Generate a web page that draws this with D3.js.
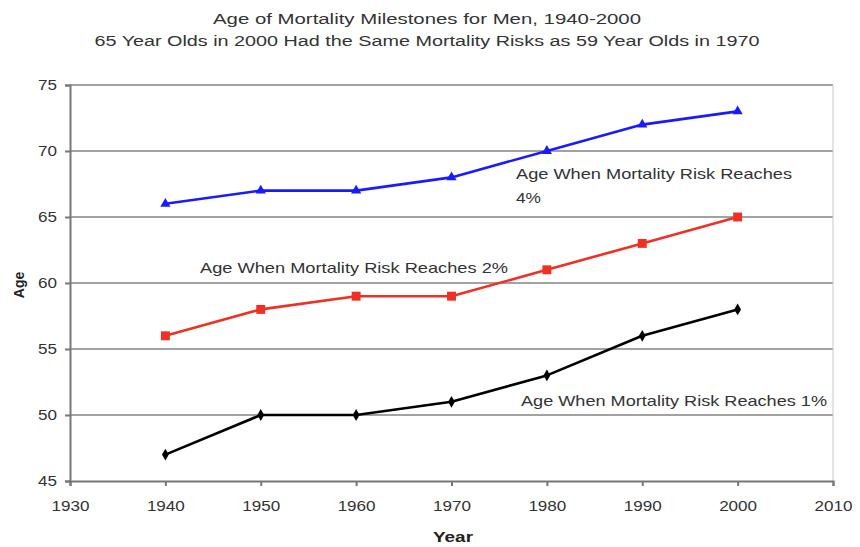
<!DOCTYPE html>
<html><head><meta charset="utf-8">
<script src="https://cdn.jsdelivr.net/npm/d3@7"></script>
<style>body{margin:0;background:#fff}text{font-family:"Liberation Sans",Arial,sans-serif}</style>
</head><body><svg id="c" width="860" height="547"></svg>
<script>
const years = [1940, 1950, 1960, 1970, 1980, 1990, 2000];
const risk4 = [66, 67, 67, 68, 70, 72, 73];
const risk2 = [56, 58, 59, 59, 61, 63, 65];
const risk1 = [47, 50, 50, 51, 53, 56, 58];
const xTicks = [1930, 1940, 1950, 1960, 1970, 1980, 1990, 2000, 2010];
const yTicks = [45, 50, 55, 60, 65, 70, 75];
const titleLines = ["Age of Mortality Milestones for Men, 1940-2000",
  "65 Year Olds in 2000 Had the Same Mortality Risks as 59 Year Olds in 1970"];

const svg = d3.select("#c");
const x = d3.scaleLinear().domain([1930, 2010]).range([70, 833]);
const y = d3.scaleLinear().domain([45, 75]).range([481, 85]);

// gridlines
svg.append("g").selectAll("line").data(yTicks.filter(d => d > 45)).join("line")
  .attr("x1", 70).attr("x2", 833).attr("y1", d => y(d)).attr("y2", d => y(d))
  .attr("stroke", "#a2a2a2").attr("stroke-width", 2.2);
// right border
svg.append("line").attr("x1", 833).attr("x2", 833).attr("y1", y(75)).attr("y2", y(45))
  .attr("stroke", "#c8c8c8").attr("stroke-width", 1);

// axes
const yAxis = d3.axisLeft(y).tickValues(yTicks).tickSize(5).tickPadding(8);
const gy = svg.append("g").attr("transform", "translate(70,0)").call(yAxis);
const xAxis = d3.axisBottom(x).tickValues(xTicks).tickFormat(d3.format("d")).tickSize(5).tickPadding(14);
const gx = svg.append("g").attr("transform", `translate(0,${y(45)})`).call(xAxis);
[gx, gy].forEach(g => {
  g.select(".domain").attr("stroke", "#777").attr("stroke-width", 2);
  g.selectAll(".tick line").attr("stroke", "#777").attr("stroke-width", 2);
  g.selectAll(".tick text").attr("fill", "#333").style("font-size", "15px")
    .style("font-family", "'Liberation Sans',Arial,sans-serif");
});
gx.selectAll(".tick text").attr("textLength", 38).attr("lengthAdjust", "spacingAndGlyphs");
gy.selectAll(".tick text").attr("textLength", 19).attr("lengthAdjust", "spacingAndGlyphs");

const line = d3.line().x((d, i) => x(years[i])).y(d => y(d));
const series = [
  {v: risk4, c: "#1a1aff", m: d3.symbolTriangle, s: 45},
  {v: risk2, c: "#ee3124", m: d3.symbolSquare, s: 80},
  {v: risk1, c: "#000", m: d3.symbolDiamond, s: 40}
];
series.forEach(s => {
  svg.append("path").datum(s.v).attr("d", line).attr("fill", "none")
    .attr("stroke", s.c).attr("stroke-width", 2.6).attr("stroke-linejoin", "round");
  svg.append("g").selectAll("path").data(s.v).join("path")
    .attr("transform", (d, i) => `translate(${x(years[i])},${y(d)})`)
    .attr("d", d3.symbol().type(s.m).size(s.s)).attr("fill", s.c);
});

// titles
const titleLen = [428, 665];
svg.append("g").selectAll("text").data(titleLines).join("text")
  .attr("x", 427).attr("y", (d, i) => 24 + i * 22).attr("text-anchor", "middle")
  .attr("textLength", (d, i) => titleLen[i]).attr("lengthAdjust", "spacingAndGlyphs")
  .attr("fill", "#333").style("font-size", "15.5px").text(d => d);

// axis titles
svg.append("text").attr("transform", "translate(24,285) rotate(-90)").attr("text-anchor", "middle")
  .attr("fill", "#222").style("font-size", "14px").style("font-weight", "bold").text("Age");
svg.append("text").attr("x", 453).attr("y", 542).attr("text-anchor", "middle")
  .attr("textLength", 40).attr("lengthAdjust", "spacingAndGlyphs")
  .attr("fill", "#222").style("font-size", "14px").style("font-weight", "bold").text("Year");

// annotations
const ann = [
  {t: "Age When Mortality Risk Reaches", x: 516, y: 179, w: 276},
  {t: "4%", x: 516, y: 203, w: 25},
  {t: "Age When Mortality Risk Reaches 2%", x: 200, y: 273, w: 308},
  {t: "Age When Mortality Risk Reaches 1%", x: 521, y: 406, w: 306}
];
svg.append("g").selectAll("text").data(ann).join("text")
  .attr("x", d => d.x).attr("y", d => d.y).attr("fill", "#333")
  .attr("textLength", d => d.w).attr("lengthAdjust", "spacingAndGlyphs")
  .style("font-size", "15px").text(d => d.t);
</script></body></html>
